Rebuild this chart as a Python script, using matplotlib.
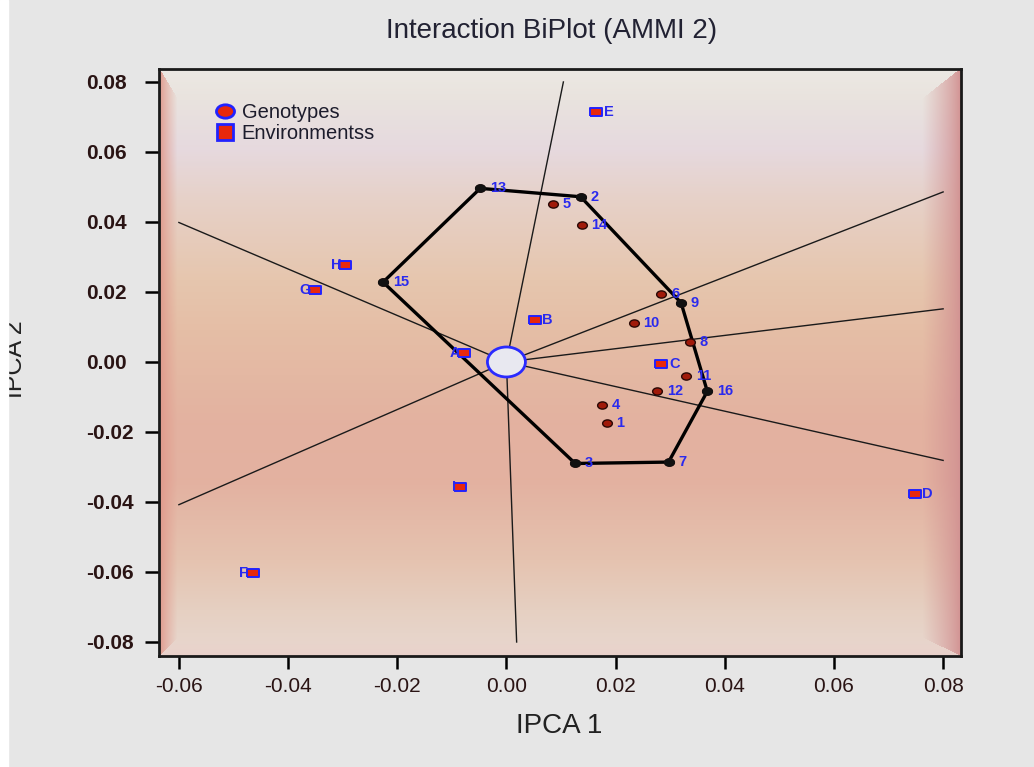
import numpy as np
import matplotlib
matplotlib.use('Agg')
import matplotlib.pyplot as plt
from matplotlib.lines import Line2D
from matplotlib.patches import Ellipse, Rectangle
from matplotlib.path import Path
from matplotlib.colors import to_rgb

plt.rcParams['font.family'] = ['Liberation Sans', 'DejaVu Sans']
plt.rcParams['axes.unicode_minus'] = False

# genotype scores (IPCA1, IPCA2)
gen_labels = [str(i) for i in range(1, 17)]
gen_x = [0.0184, 0.0136, 0.0126, 0.0175, 0.0086, 0.0284, 0.0297, 0.0336,
         0.0320, 0.0233, 0.0329, 0.0276, -0.0048, 0.0138, -0.0226, 0.0368]
gen_y = [-0.0173, 0.0472, -0.0290, -0.0124, 0.0452, 0.0195, -0.0286, 0.0057,
         0.0169, 0.0111, -0.0041, -0.0084, 0.0496, 0.0391, 0.0228, -0.0084]

# environment scores
env_labels = ['A', 'B', 'C', 'D', 'E', 'F', 'G', 'H', 'I']
env_x = [-0.0077, 0.0052, 0.0284, 0.0748, 0.0165, -0.0465, -0.0350, -0.0295, -0.0085]
env_y = [0.0025, 0.0120, -0.0007, -0.0377, 0.0715, -0.0602, 0.0206, 0.0276, -0.0358]

xticks = [-0.06, -0.04, -0.02, 0.00, 0.02, 0.04, 0.06, 0.08]
yticks = [-0.08, -0.06, -0.04, -0.02, 0.00, 0.02, 0.04, 0.06, 0.08]
xlim = (-0.0637, 0.0832)
ylim = (-0.0840, 0.0837)
ray_box = (-0.06, 0.08, -0.08, 0.08)


def convex_hull(pts):
    pts = sorted(pts)

    def cross(o, a, b):
        return (a[0] - o[0]) * (b[1] - o[1]) - (a[1] - o[1]) * (b[0] - o[0])
    lower, upper = [], []
    for p in pts:
        while len(lower) >= 2 and cross(lower[-2], lower[-1], p) <= 0:
            lower.pop()
        lower.append(p)
    for p in reversed(pts):
        while len(upper) >= 2 and cross(upper[-2], upper[-1], p) <= 0:
            upper.pop()
        upper.append(p)
    return lower[:-1] + upper[:-1]


hull = convex_hull(list(zip(gen_x, gen_y)))

fig = plt.figure(figsize=(10.34, 7.67), dpi=100, facecolor='#e6e6e6')
ax = fig.add_axes([0.15348, 0.14472, 0.77553, 0.76532])
ax.set_xlim(*xlim)
ax.set_ylim(*ylim)

# shaded background with bevelled frame
H, W = 587, 802
stops_py = [0, 31, 81, 131, 211, 261, 351, 411, 491, 541, 587]
stops_c = ['#ebe6e0', '#e9e3de', '#e6d9de', '#e6d1c8', '#e6c6ae', '#e5bea6',
           '#e3b2a0', '#e3b1a0', '#e5c3b0', '#e6d0c2', '#e8d8d0']
rgb = np.array([to_rgb(c) for c in stops_c])
rows = np.arange(H)
base = np.stack([np.interp(rows, stops_py, rgb[:, k]) for k in range(3)], axis=1)
img = np.repeat(base[:, None, :], W, axis=1)
jj, ii = np.meshgrid(np.arange(W), np.arange(H))
widths = [18, 38, 30, 18]
dist = np.stack([jj / widths[0], (W - 1 - jj) / widths[1],
                 ii / widths[2], (H - 1 - ii) / widths[3]])
edge_c = np.array([to_rgb(c) for c in ['#e0978a', '#d29292', '#ece8e3', '#e9d0ca']])
idx = dist.argmin(axis=0)
m = np.clip(dist.min(axis=0), 0, 1)[..., None] ** 0.8
ec = edge_c[idx]
img = img * m + ec * (1 - m)
ax.imshow(img, extent=(xlim[0], xlim[1], ylim[0], ylim[1]), aspect='auto',
          origin='upper', interpolation='bilinear', zorder=0)

# perpendicular rays from origin to each hull side
n = len(hull)
for k in range(n):
    p, q = np.array(hull[k]), np.array(hull[(k + 1) % n])
    d = q - p
    nv = np.array([d[1], -d[0]])
    if nv @ p < 0:
        nv = -nv
    ts = []
    ts.append(ray_box[1] / nv[0] if nv[0] > 0 else ray_box[0] / nv[0])
    ts.append(ray_box[3] / nv[1] if nv[1] > 0 else ray_box[2] / nv[1])
    t = min(ts)
    ax.plot([0, t * nv[0]], [0, t * nv[1]], color='#1a1a1a', lw=1.0, zorder=2)

hx = [p[0] for p in hull] + [hull[0][0]]
hy = [p[1] for p in hull] + [hull[0][1]]
ax.plot(hx, hy, color='black', lw=2.4, zorder=3, solid_joinstyle='round')

ell = Path.unit_circle()
ell_marker = Path(ell.vertices * [1.35, 1.0], ell.codes)
rect_marker = [(-1.4, -1), (1.4, -1), (1.4, 1), (-1.4, 1), (-1.4, -1)]

ax.plot(gen_x, gen_y, ls='', marker=ell_marker, ms=7, mfc='#a01a0a',
        mec='#2a0805', mew=1.0, zorder=4)
ax.plot(hx[:-1], hy[:-1], ls='', marker=ell_marker, ms=7, color='#111111', zorder=5)
for lab, x, y in zip(gen_labels, gen_x, gen_y):
    ax.annotate(lab, (x, y), xytext=(7, 0), textcoords='offset points',
                ha='left', va='center', fontsize=10.5, fontweight='bold',
                color='#2a2aee', zorder=6)

ax.plot(env_x, env_y, ls='', marker=rect_marker, ms=8, mfc='#e8280c',
        mec='#2222ff', mew=1.4, zorder=4)
for lab, x, y in zip(env_labels, env_x, env_y):
    if x < 0:
        ax.annotate(lab, (x, y), xytext=(-3, 0), textcoords='offset points',
                    ha='right', va='center', fontsize=10.5, fontweight='bold',
                    color='#2a2aee', zorder=6)
    else:
        ax.annotate(lab, (x, y), xytext=(5.5, 0), textcoords='offset points',
                    ha='left', va='center', fontsize=10.5, fontweight='bold',
                    color='#2a2aee', zorder=6)

ax.add_patch(Ellipse((0, 0), width=38 * (xlim[1] - xlim[0]) / W,
                     height=30 * (ylim[1] - ylim[0]) / H,
                     fc='#e8e8f0', ec='#2a2aff', lw=2, zorder=7))

# legend
handles = [Line2D([], [], ls='', marker=ell_marker, ms=13, mfc='#e8280c',
                  mec='#2222ff', mew=2),
           Line2D([], [], ls='', marker='s', ms=11, mfc='#e8280c',
                  mec='#2222ff', mew=2)]
leg = ax.legend(handles, ['Genotypes', 'Environmentss'], loc='upper left',
                bbox_to_anchor=(0.072, 0.942), frameon=False, fontsize=14.5,
                handlelength=0.9, handletextpad=0.35, borderpad=0,
                borderaxespad=0, labelspacing=0.1)
for t in leg.get_texts():
    t.set_color('#1c1c2c')

for s in ax.spines.values():
    s.set_linewidth(2)
    s.set_color('#1a1a1a')

ax.set_xticks(xticks)
ax.set_xticklabels([f'{v:.2f}' for v in xticks], fontsize=15, color='#2a1414')
ax.set_yticks(yticks)
ax.set_yticklabels([f'{v:.2f}' for v in yticks], fontsize=15,
                   fontweight='bold', color='#2a1414')
ax.tick_params(axis='x', length=9, width=1.8, pad=6, direction='out')
ax.tick_params(axis='y', length=10, width=1.8, pad=42, direction='out')
for t in ax.get_yticklabels():
    t.set_horizontalalignment('left')

fig.text(551.5 / 1034, 1 - 31 / 767, 'Interaction BiPlot (AMMI 2)', ha='center',
         va='center', fontsize=20, color='#222233')
fig.text(559.6 / 1034, 1 - 726 / 767, 'IPCA 1', ha='center', va='center',
         fontsize=20, color='#222222')
fig.text(27 / 1034, 1 - 359 / 767, 'IPCA 2', rotation=90, ha='right',
         va='center', fontsize=18, color='#222222')
fig.patches.append(Rectangle((0, 0), 8 / 1034, 1, transform=fig.transFigure,
                             color='white', zorder=10))

fig.savefig('out.png', dpi=100, facecolor=fig.get_facecolor())
